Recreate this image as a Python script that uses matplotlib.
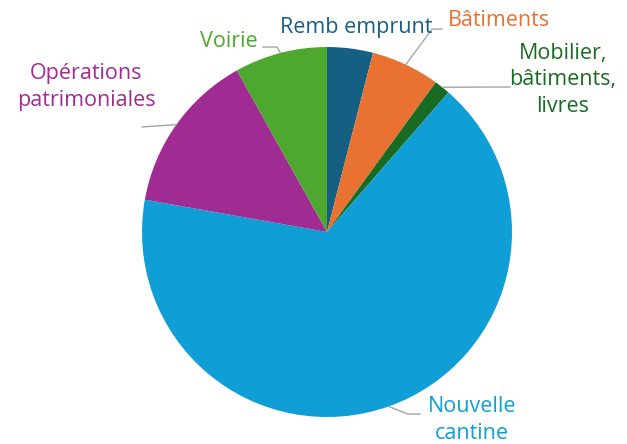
import numpy as np
import matplotlib
matplotlib.use("Agg")
import matplotlib.pyplot as plt

# data (share of investment, %), clockwise from 12 o'clock
labels = ["Remb emprunt", "Bâtiments", "Mobilier,\nbâtiments,\nlivres",
          "Nouvelle\ncantine", "Opérations\npatrimoniales", "Voirie"]
values = [4.0, 6.0, 1.4, 66.4, 14.1, 8.1]
colors = ["#156082", "#E97132", "#196B24", "#0F9ED5", "#A02B93", "#4EA72E"]

# label placement (pie radius = 1) and leader line bends
label_pos = [(0.157, 1.103), (0.930, 1.141), (1.276, 0.822),
             (0.784, -1.016), (-1.303, 0.784), (-0.530, 1.032)]
leaders = [None,
           [(0.568, 1.097), (0.622, 1.097)],
           [(0.989, 0.784)],
           [(0.438, -0.984), (0.503, -0.984)],
           [(-1.0, 0.568)],
           [(-0.27, 1.0), (-0.346, 1.0)]]

plt.rcParams['font.family'] = ['Open Sans', 'DejaVu Sans']

fig = plt.figure(figsize=(6.27, 4.44), dpi=100)
cx, cy, R = 327, 232, 185
ax = fig.add_axes([(cx - R) / 627, (444 - cy - R) / 444, 2 * R / 627, 2 * R / 444])

wedges, _ = ax.pie(values, colors=colors, startangle=90, counterclock=False,
                   wedgeprops=dict(linewidth=0))
ax.set_xlim(-1, 1)
ax.set_ylim(-1, 1)

cum = np.cumsum([0] + values)
total = sum(values)
for i, lab in enumerate(labels):
    mid = np.deg2rad((cum[i] + values[i] / 2) / total * 360)
    if leaders[i] is not None:
        pts = [(np.sin(mid), np.cos(mid))] + leaders[i]
        xs, ys = zip(*pts)
        ax.plot(xs, ys, color="#A6A6A6", lw=1, clip_on=False)
    ax.text(label_pos[i][0], label_pos[i][1], lab, color=colors[i], fontsize=15.5,
            ha="center", va="center", linespacing=1.32, clip_on=False)

fig.savefig("out.png", dpi=100)
